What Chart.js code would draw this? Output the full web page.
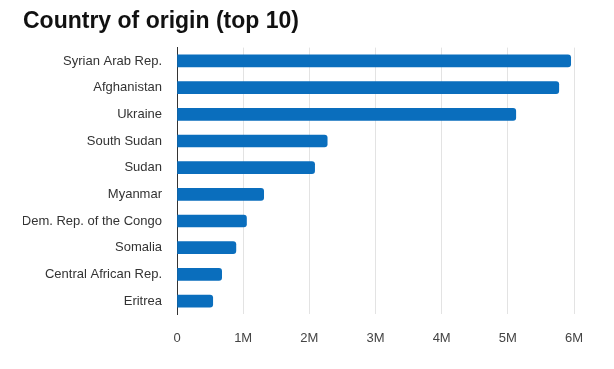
<!DOCTYPE html>
<html>
<head>
<meta charset="utf-8">
<script src="https://cdn.jsdelivr.net/npm/chart.js@4/dist/chart.umd.min.js"></script>
<style>
  html, body { margin: 0; padding: 0; background: #fff; }
  #wrap { width: 614px; height: 369px; }
</style>
</head>
<body>
<div id="wrap"><canvas id="originChart" width="614" height="369"></canvas></div>
<script>
// Dados do gráfico
const countries = [
    'Syrian Arab Rep.', 'Afghanistan', 'Ukraine', 'South Sudan', 'Sudan',
    'Myanmar', 'Dem. Rep. of the Congo', 'Somalia', 'Central African Rep.', 'Eritrea'
];
const refugees = [5950000, 5770000, 5120000, 2270000, 2080000, 1310000, 1050000, 890000, 675000, 540000];
const tickLabels = ['0', '1M', '2M', '3M', '4M', '5M', '6M'];

const FONT = "'Liberation Sans', Arial, sans-serif";

function renderOriginChart() {
    const ctx = document.getElementById('originChart');
    ctx.chart = new Chart(ctx, {
        type: 'bar',
        data: {
            labels: countries,
            datasets: [{
                data: refugees,
                backgroundColor: '#0A6EBD',
                barThickness: 12,
                borderRadius: 3
            }]
        },
        options: {
            indexAxis: 'y',
            responsive: false,
            animation: false,
            layout: { padding: { left: 23, right: 40, top: 0, bottom: 7 } },
            plugins: {
                legend: { display: false },
                tooltip: { enabled: false },
                title: {
                    display: true,
                    text: 'Country of origin (top 10)',
                    align: 'start',
                    color: '#111',
                    font: { family: FONT, size: 23, weight: 'bold' },
                    padding: { top: 8, bottom: 12 }
                }
            },
            scales: {
                x: {
                    min: 0,
                    max: 6000000,
                    ticks: {
                        stepSize: 1000000,
                        color: '#444',
                        padding: 16,
                        font: { family: FONT, size: 13 },
                        callback: (value, i) => tickLabels[i]
                    },
                    grid: { color: '#e3e3e3', drawTicks: false },
                    border: { display: false }
                },
                y: {
                    afterFit: (scale) => { scale.width = 154; }, // largura fixa da coluna de rótulos
                    ticks: {
                        color: '#333',
                        padding: 15,
                        font: { family: FONT, size: 13 }
                    },
                    grid: { display: false, drawTicks: false },
                    border: { display: true, color: '#333', width: 1 }
                }
            }
        }
    });
}

renderOriginChart();
</script>
</body>
</html>
